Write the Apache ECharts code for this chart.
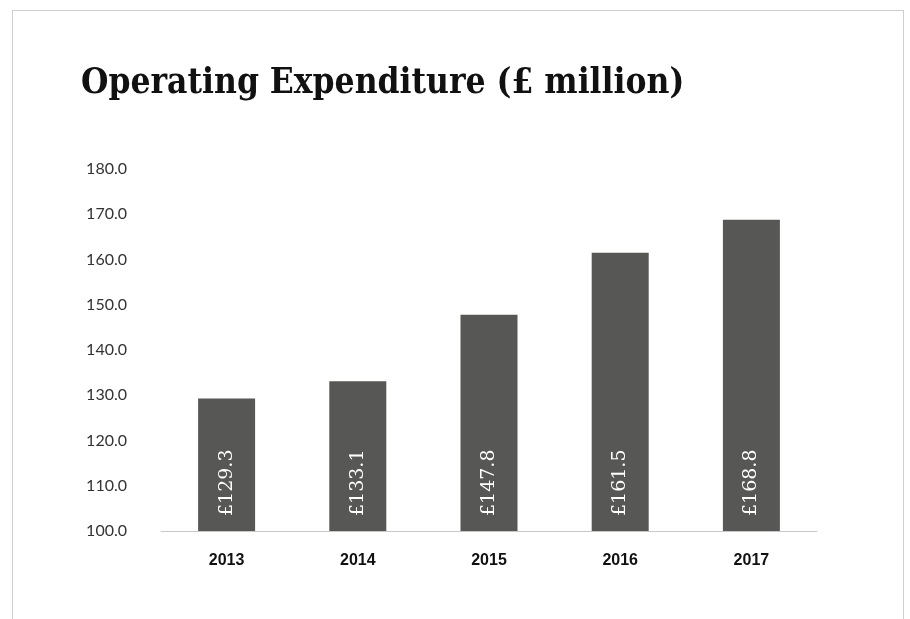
<!DOCTYPE html>
<html>
<head>
<meta charset="utf-8">
<script src="https://cdn.jsdelivr.net/npm/echarts@6/dist/echarts.min.js"></script>
<style>
  html, body { margin: 0; padding: 0; background: #fff; }
  #frame { position: absolute; left: 12px; top: 10px; width: 892px; height: 620px;
           border: 1px solid #cfcfcf; border-bottom: none; box-sizing: border-box; }
  #chart { position: absolute; left: 0; top: 0; width: 910px; height: 619px; }
</style>
</head>
<body>
<div id="frame"></div>
<div id="chart"></div>
<script>
// Operating expenditure by year, £ million
const years = ['2013', '2014', '2015', '2016', '2017'];
const expenditure = [129.3, 133.1, 147.8, 161.5, 168.8];
const axisMin = 100;
const axisMax = 180;
const axisStep = 10;

const chart = echarts.init(document.getElementById('chart'), null, { renderer: 'canvas' });

chart.setOption({
  animation: false,
  backgroundColor: 'transparent',
  title: {
    text: 'Operating Expenditure (£ million)',
    left: 76,
    top: 61,
    textStyle: {
      fontFamily: '"DejaVu Serif Condensed", "DejaVu Serif"',
      fontWeight: 'bold',
      fontSize: 35,
      color: '#111'
    }
  },
  grid: {
    left: 161,
    right: 93,
    top: 169,
    bottom: 88
  },
  xAxis: {
    type: 'category',
    data: years,
    axisLine: { show: true, lineStyle: { color: '#c8c8c8', width: 1 } },
    axisTick: { show: false },
    axisLabel: {
      margin: 22,
      fontFamily: 'Liberation Sans',
      fontWeight: 'bold',
      fontSize: 16,
      color: '#111'
    }
  },
  yAxis: {
    type: 'value',
    min: axisMin,
    max: axisMax,
    interval: axisStep,
    axisLine: { show: false },
    axisTick: { show: false },
    splitLine: { show: false },
    axisLabel: {
      margin: 34,
      fontFamily: 'Lato',
      fontSize: 16,
      color: '#333',
      formatter: v => v.toFixed(1)
    }
  },
  series: [{
    type: 'bar',
    data: expenditure,
    barWidth: 57,
    itemStyle: { color: '#575755' },
    label: {
      show: true,
      position: 'insideBottom',
      distance: 15,
      rotate: 90,
      align: 'left',
      verticalAlign: 'middle',
      fontFamily: 'DejaVu Serif',
      fontSize: 19,
      color: '#fff',
      formatter: p => '£' + p.value.toFixed(1)
    }
  }]
});
</script>
</body>
</html>
